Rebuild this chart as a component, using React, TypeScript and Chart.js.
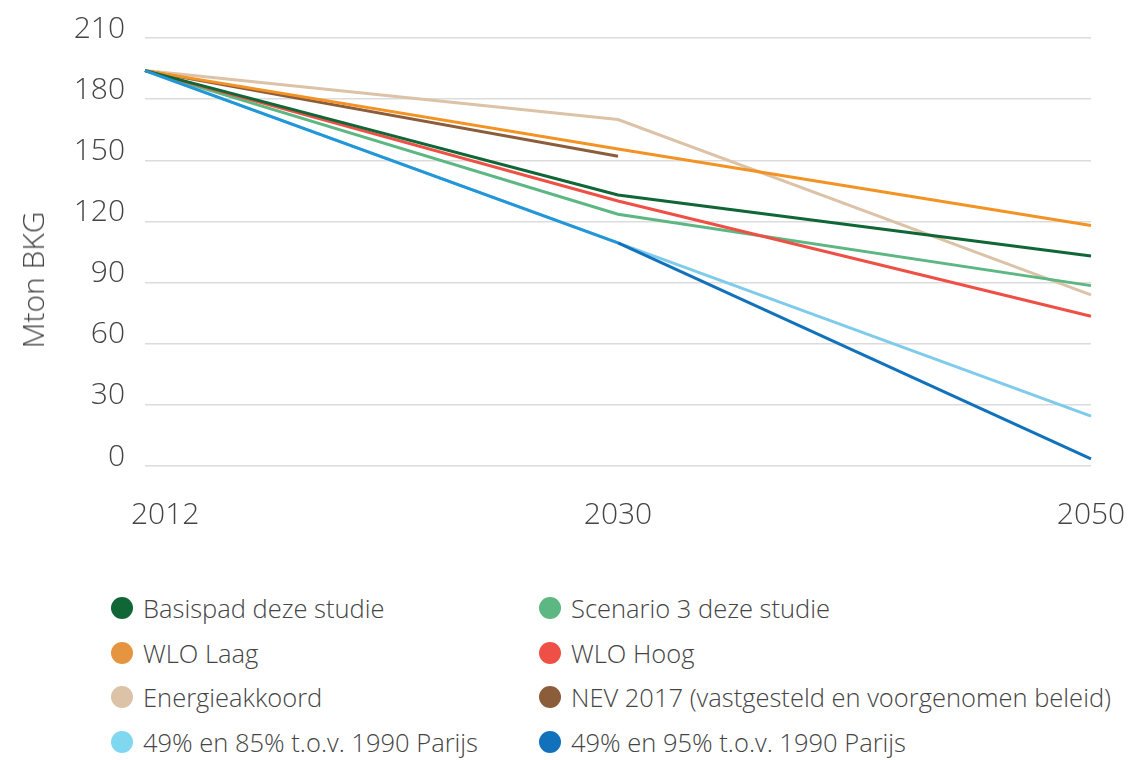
import React, { useEffect, useRef } from "react";
import { Chart, registerables } from "chart.js";

Chart.register(...registerables);

const years = ["2012", "2030", "2050"];
const yTicks = [0, 30, 60, 90, 120, 150, 180, 210];
const yTitle = "Mton BKG";

const basispad = [194, 133, 103];
const scenario3 = [194, 123.5, 88.5];
const wloLaag = [194, 155.5, 118];
const wloHoog = [194, 130, 73.5];
const energieakkoord = [194, 170, 84];
const nev2017 = [194, 152, null];
const parijs85 = [194, 109.5, 24.5];
const parijs95 = [194, 109.5, 3.5];

const labels = [
  "Basispad deze studie",
  "Scenario 3 deze studie",
  "WLO Laag",
  "WLO Hoog",
  "Energieakkoord",
  "NEV 2017 (vastgesteld en voorgenomen beleid)",
  "49% en 85% t.o.v. 1990 Parijs",
  "49% en 95% t.o.v. 1990 Parijs",
];
const lineColors = ["#106637", "#5db783", "#f39323", "#ee5045", "#dcc3a7", "#8b5d3b", "#7ecbeb", "#1172bb"];
const legendColors = ["#106637", "#5db783", "#e59540", "#ee5045", "#dcc3a7", "#8b5d3b", "#7fd8f0", "#1172bb"];

const FONT = "'Open Sans', sans-serif";

const xLabelPlugin = {
  id: "xLabels",
  afterDraw(chart: any) {
    const { ctx, chartArea, scales } = chart;
    const xs = scales.x;
    ctx.save();
    ctx.font = `300 30px ${FONT}`;
    ctx.fillStyle = "#444";
    ctx.textAlign = "center";
    ctx.textBaseline = "middle";
    xs.ticks.forEach((t: any, i: number) => {
      const label = String(chart.data.labels[i]);
      const w = ctx.measureText(label).width;
      let x = xs.getPixelForTick(i);
      x = Math.max(x, chartArea.left - 14 + w / 2);
      ctx.fillText(label, x, chartArea.bottom + 49);
    });
    ctx.restore();
  },
};

export default function App() {
  const ref = useRef<HTMLCanvasElement>(null);
  useEffect(() => {
    if (!ref.current) return;
    const series = [basispad, scenario3, wloLaag, wloHoog, energieakkoord, nev2017, parijs85, parijs95];
    const order = [7, 0, 3, 1, 2, 5, 4, 6];
    const datasets = order.map((i) => ({
      label: labels[i],
      data: series[i],
      borderColor: lineColors[i],
      backgroundColor: lineColors[i],
      borderWidth: 3,
      pointRadius: 0,
      fill: false,
      tension: 0,
      spanGaps: false,
      segment:
        i === 7
          ? { borderColor: (ctx: any) => (ctx.p0DataIndex === 0 ? "#2396d8" : "#1172bb") }
          : undefined,
    }));
    const chart = new Chart(ref.current, {
      type: "line",
      data: { labels: years, datasets },
      plugins: [xLabelPlugin],
      options: {
        animation: false,
        responsive: false,
        maintainAspectRatio: false,
        layout: { padding: { top: 36, right: 48, left: 0, bottom: 0 } },
        plugins: { legend: { display: false }, tooltip: { enabled: false } },
        scales: {
          x: {
            offset: false,
            grid: { display: false, drawTicks: false },
            border: { display: false },
            ticks: { display: false },
            afterFit: (s: any) => {
              s.height = 94;
              s.paddingLeft = 0;
              s.paddingRight = 0;
            },
          },
          y: {
            min: 0,
            max: 210,
            afterBuildTicks: (s: any) => {
              s.ticks = yTicks.map((v) => ({ value: v }));
            },
            grid: { color: "#dcdcdc", lineWidth: 1.5, drawTicks: false },
            border: { display: false },
            ticks: {
              color: "#444",
              font: { family: FONT, size: 30, weight: 300 as any },
              padding: 20,
              labelOffset: -9,
            },
            afterFit: (s: any) => {
              s.width = 145;
            },
          },
        },
      },
    });
    return () => chart.destroy();
  }, []);

  const rows = [
    [0, 1],
    [2, 3],
    [4, 5],
    [6, 7],
  ];
  const rowY = [608, 653, 697, 742];
  const colX = [122, 550];

  return (
    <div style={{ position: "absolute", left: 0, top: 0, width: 1139, height: 760, background: "#fff", overflow: "hidden" }}>
      <canvas ref={ref} width={1139} height={560} style={{ position: "absolute", left: 0, top: 0, width: 1139, height: 560 }} />
      <div
        style={{
          position: "absolute",
          left: 33,
          top: 280,
          transform: "translate(-50%, -50%) rotate(-90deg)",
          whiteSpace: "nowrap",
          fontFamily: FONT,
          fontWeight: 300,
          fontSize: 30,
          color: "#444",
          lineHeight: 1,
        }}
      >
        {yTitle}
      </div>
      {rows.map((r, ri) =>
        r.map((idx, ci) => (
          <div
            key={idx}
            style={{
              position: "absolute",
              left: colX[ci] - 11,
              top: rowY[ri] - 16,
              height: 32,
              display: "flex",
              alignItems: "center",
              whiteSpace: "nowrap",
              fontFamily: FONT,
              fontWeight: 300,
              fontSize: 25.5,
              color: "#444",
            }}
          >
            <span
              style={{
                display: "inline-block",
                width: 22,
                height: 22,
                borderRadius: "50%",
                background: legendColors[idx],
                marginRight: 10,
                flex: "none",
              }}
            />
            <span>{labels[idx]}</span>
          </div>
        ))
      )}
    </div>
  );
}
